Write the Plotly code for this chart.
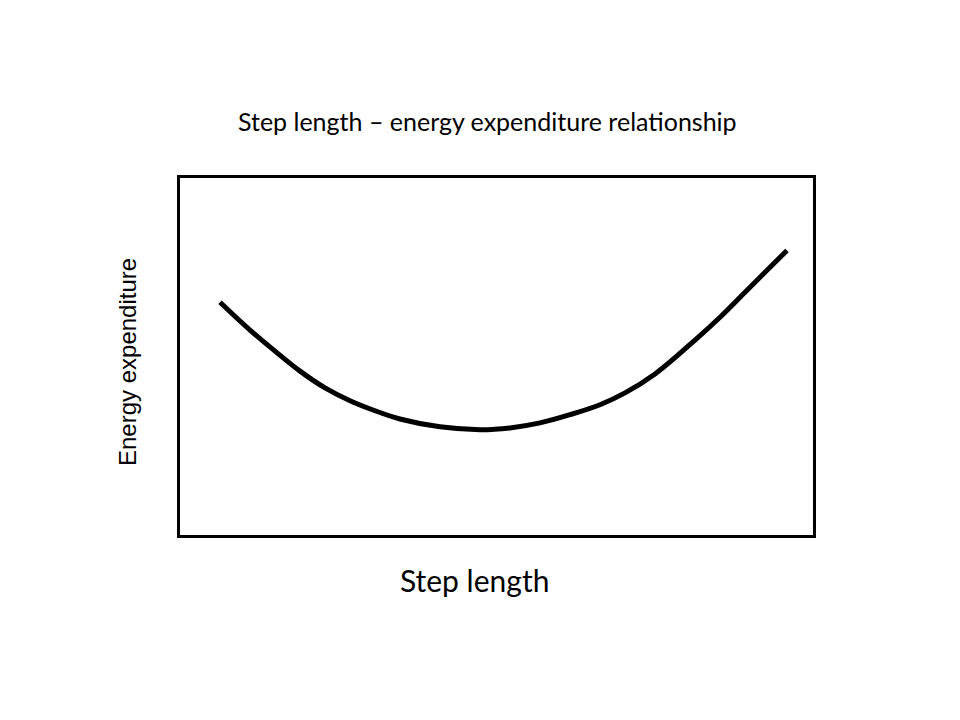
import plotly.graph_objects as go

# Data (arbitrary units)
step_length = [0.632, 1.106, 1.501, 1.896, 2.291, 2.686, 3.081, 3.476, 4.107, 4.739, 5.213,
               5.687, 6.161, 6.635, 7.030, 7.504, 8.136, 8.531, 8.926, 9.321, 9.589]
energy = [6.52, 5.74, 5.15, 4.59, 4.12, 3.76, 3.48, 3.25, 3.03, 2.95, 3.00,
          3.14, 3.37, 3.65, 3.98, 4.51, 5.46, 6.10, 6.80, 7.50, 7.97]

title_text = "Step length \u2013 energy expenditure relationship"
x_label = "Step length"
y_label = "Energy expenditure"

fig = go.Figure()
fig.add_trace(go.Scatter(
    x=step_length, y=energy, mode="lines",
    line=dict(color="black", width=5, shape="spline", smoothing=1.0),
    hoverinfo="skip", showlegend=False,
))

axis_common = dict(
    showgrid=False, zeroline=False, showticklabels=False, ticks="",
    showline=True, linecolor="black", linewidth=3, mirror=True,
)
fig.update_xaxes(range=[0, 10], **axis_common)
fig.update_yaxes(range=[0, 10], **axis_common)

fig.update_layout(
    width=960, height=720,
    margin=dict(l=172, r=155, t=170, b=193),
    paper_bgcolor="white", plot_bgcolor="white",
    annotations=[
        dict(text=title_text, xref="paper", yref="paper", x=0.485, y=1.160,
             xanchor="center", yanchor="middle", showarrow=False,
             font=dict(family="Lato", size=25, color="black")),
        dict(text=x_label, xref="paper", yref="paper", x=0.4645, y=-0.126,
             xanchor="center", yanchor="middle", showarrow=False,
             font=dict(family="Lato", size=30, color="black")),
        dict(text=y_label, xref="paper", yref="paper", x=-0.0821, y=0.4846,
             xanchor="center", yanchor="middle", showarrow=False, textangle=-90,
             font=dict(family="Liberation Sans", size=24, color="black")),
    ],
)

fig.write_html("out.html")
